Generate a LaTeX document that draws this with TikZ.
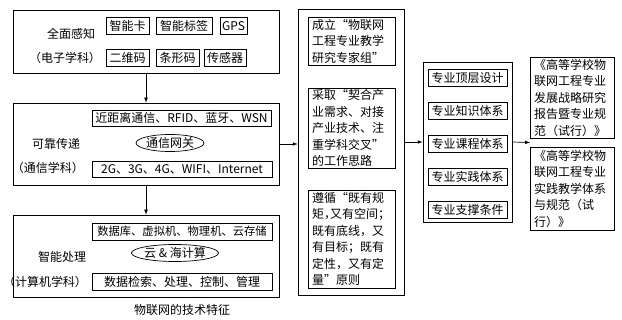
\documentclass[tikz,border=0pt]{standalone}
\usepackage{fontspec}
\setmainfont{Noto Sans CJK SC}
\usetikzlibrary{shapes.geometric}
\newcommand{\hp}[1]{{\addfontfeatures{RawFeature=+halt}#1}}
\tikzset{
  outerbox/.style={draw, line width=0.7pt, inner sep=0pt},
  itembox/.style={draw, line width=0.7pt, inner sep=0pt, minimum height=17pt},
  gateway/.style={draw, ellipse, line width=0.7pt, inner sep=0pt, minimum height=17pt},
  textbox/.style={draw, line width=0.7pt, align=left, inner xsep=4pt, inner ysep=0pt,
    font=\fontsize{12}{16.5}\selectfont},
  flow/.style={-latex, line width=0.7pt},
}
\begin{document}
\begin{tikzpicture}[x=1pt, y=-1pt, font=\fontsize{12}{15}\selectfont]
    \useasboundingbox (0,0) rectangle (622,320);
    % left column: technical features
    \node[outerbox, minimum width=266pt, minimum height=63pt] (sense) at (146,41.5) {};
    \node (senselbl) at (71,34) {全面感知};
    \node (sensesub) at (65,57.5) {（电子学科）};
    \node[itembox, minimum width=43pt] (card) at (127.5,26) {智能卡};
    \node[itembox, minimum width=56pt] (tag) at (184,26) {智能标签};
    \node[itembox, minimum width=27pt] (gps) at (233.5,26) {GPS};
    \node[itembox, minimum width=43pt] (qr) at (127.5,57.5) {二维码};
    \node[itembox, minimum width=43pt] (bar) at (177.5,57.5) {条形码};
    \node[itembox, minimum width=42pt] (sensor) at (225,57.5) {传感器};

    \node[outerbox, minimum width=266pt, minimum height=82pt] (trans) at (146,144) {};
    \node (translbl) at (56,144) {可靠传递};
    \node (transsub) at (48,168) {（通信学科）};
    \node[itembox, minimum width=179pt, minimum height=16pt] (near) at (181.5,118) {近距离通信、RFID、蓝牙、WSN};
    \node[gateway, minimum width=64pt] (gw) at (170,143) {通信网关};
    \node[itembox, minimum width=180pt, minimum height=16pt] (wide) at (182,169) {2G、3G、4G、WIFI、Internet};

    \node[outerbox, minimum width=266pt, minimum height=82pt] (proc) at (146,256) {};
    \node (proclbl) at (62,257) {智能处理};
    \node (procsub) at (45,282) {（计算机学科）};
    \node[itembox, minimum width=180pt, font=\fontsize{11.3}{15}\selectfont] (store) at (182,231.5) {数据库、虚拟机、物理机、云存储};
    \node[gateway, minimum width=79pt] (cloud) at (175,253) {云 \& 海计算};
    \node[itembox, minimum width=180pt] (manage) at (182,281.5) {数据检索、处理、控制、管理};
    \node (caption) at (182,310) {物联网的技术特征};

    \draw[flow] (sense) -- (trans);
    \draw[flow] (trans) -- (proc);

    % middle column: working ideas
    \node[outerbox, minimum width=106pt, minimum height=286pt] (ideas) at (351,152) {};
    \node[textbox, text width=79pt, minimum height=48pt] (group) at (351.5,41) {成立“物联网\\工程专业教学\\研究专家组”};
    \node[textbox, text width=79pt, minimum height=80pt] (idea) at (351.5,128) {采取“契合产\\业需求、对接\\产业技术、注\\重学科交叉”\\的工作思路};
    \node[textbox, text width=79pt, minimum height=98pt] (rule) at (351.5,239) {遵循“既有规\\矩\hp{，}又有空间\hp{；}\\既有底线，又\\有目标；既有\\定性，又有定\\量”原则};

    \draw[flow] (trans.east) -- (trans.east -| ideas.west);

    % third column: specialty system
    \node[outerbox, minimum width=89pt, minimum height=160pt] (spec) at (467.5,142) {};
    \node[itembox, minimum width=79pt] (top) at (467.5,77.5) {专业顶层设计};
    \node[itembox, minimum width=79pt] (know) at (467.5,110.5) {专业知识体系};
    \node[itembox, minimum width=79pt] (course) at (467.5,143.5) {专业课程体系};
    \node[itembox, minimum width=79pt] (prac) at (467.5,176.5) {专业实践体系};
    \node[itembox, minimum width=79pt] (supp) at (467.5,209.5) {专业支撑条件};

    \draw[flow] (spec.west -| ideas.east) -- (spec.west);

    % right column: documents
    \node[textbox, text width=76pt, minimum height=81pt] (report) at (572,97.5) {《高等学校物\\联网工程专业\\发展战略研究\\报告暨专业规\\范（试行）》};
    \node[textbox, text width=76pt, minimum height=83pt] (norm) at (572,188.5) {《高等学校物\\联网工程专业\\实践教学体系\\与规范（试\\行）》};
    \coordinate (docs) at (530,142.5);

    \draw[flow] (spec.east) -- (docs);
\end{tikzpicture}
\end{document}
